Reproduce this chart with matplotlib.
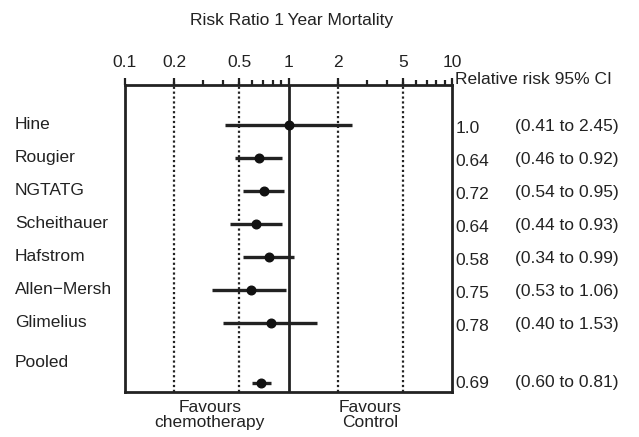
import matplotlib
matplotlib.use("Agg")
import matplotlib.pyplot as plt
import numpy as np

plt.rcParams["font.family"] = ["Liberation Sans", "DejaVu Sans"]

# study rows as drawn (top to bottom)
studies = ["Hine", "Rougier", "NGTATG", "Scheithauer", "Hafstrom", "Allen\u2212Mersh", "Glimelius"]
est = [1.0, 0.66, 0.71, 0.63, 0.76, 0.59, 0.78]
low = [0.41, 0.47, 0.53, 0.44, 0.53, 0.34, 0.40]
high = [2.45, 0.91, 0.94, 0.91, 1.08, 0.97, 1.50]

pooled_est, pooled_low, pooled_high = 0.68, 0.60, 0.785

# text column on the right
rr_text = ["1.0", "0.64", "0.72", "0.64", "0.58", "0.75", "0.78"]
ci_text = ["(0.41 to 2.45)", "(0.46 to 0.92)", "(0.54 to 0.95)", "(0.44 to 0.93)",
           "(0.34 to 0.99)", "(0.53 to 1.06)", "(0.40 to 1.53)"]
pooled_rr, pooled_ci = "0.69", "(0.60 to 0.81)"

major_ticks = [0.1, 0.2, 0.5, 1, 2, 5, 10]
tick_labels = ["0.1", "0.2", "0.5", "1", "2", "5", "10"]
dotted_at = [0.2, 0.5, 2, 5]

FS = 12.5
INK = "#222222"

fig = plt.figure(figsize=(6.39, 4.37), dpi=100)
ax = fig.add_axes([0.1956, 0.103, 0.5118, 0.7025])

ypos = np.arange(len(studies))
pooled_y = 7.82
ax.set_xscale("log")
ax.set_xlim(0.1, 10)
ax.set_ylim(8.09, -1.21)

for v in dotted_at:
    ax.axvline(v, ymin=0, ymax=1.012, color=INK, lw=1.6, ls=(0, (1, 1.2)), clip_on=False)
ax.axvline(1, color=INK, lw=2)

ax.hlines(ypos, low, high, color=INK, lw=2.4)
ax.plot(est, ypos, "o", color="#111111", ms=6.2)
ax.hlines(pooled_y, pooled_low, pooled_high, color=INK, lw=2.4)
ax.plot([pooled_est], [pooled_y], "o", color="#111111", ms=6.2)

for s in ax.spines.values():
    s.set_linewidth(2)
    s.set_color(INK)

ax.xaxis.tick_top()
ax.set_xticks(major_ticks)
ax.set_xticklabels(tick_labels, fontsize=FS)
ax.tick_params(axis="x", which="major", direction="out", length=5, width=1.6, pad=6, color=INK,
               labelcolor=INK)
ax.tick_params(axis="x", which="minor", direction="out", length=3.5, width=1.6, color=INK)
ax.tick_params(axis="y", left=False, labelleft=False)

ytr = ax.get_yaxis_transform()
# labels left
for i, name in enumerate(studies):
    ax.text(-0.336, i, name, transform=ytr, ha="left", va="center", fontsize=FS, color=INK)
ax.text(-0.336, 7.21, "Pooled", transform=ytr, ha="left", va="center", fontsize=FS, color=INK)

# numbers right
for i in range(len(studies)):
    ax.text(1.01, i + 0.1, rr_text[i], transform=ytr, ha="left", va="center", fontsize=FS, color=INK)
    ax.text(1.193, i + 0.05, ci_text[i], transform=ytr, ha="left", va="center", fontsize=FS, color=INK)
ax.text(1.01, pooled_y, pooled_rr, transform=ytr, ha="left", va="center", fontsize=FS, color=INK)
ax.text(1.193, pooled_y - 0.03, pooled_ci, transform=ytr, ha="left", va="center", fontsize=FS, color=INK)

ax.text(1.01, 1.017, "Relative risk 95% CI", transform=ax.transAxes, ha="left", va="center",
        fontsize=FS, color=INK)
fig.text(0.457, 0.954, "Risk Ratio 1\u2009Year Mortality", ha="center", va="center",
         fontsize=FS, color=INK)

xtr = ax.get_xaxis_transform()
ax.text(0.33, -0.026, "Favours\nchemotherapy", transform=xtr, ha="center", va="top",
        fontsize=FS, color=INK, linespacing=1.0)
ax.text(3.15, -0.026, "Favours\nControl", transform=xtr, ha="center", va="top",
        fontsize=FS, color=INK, linespacing=1.0)

fig.savefig("out.png", dpi=100)
